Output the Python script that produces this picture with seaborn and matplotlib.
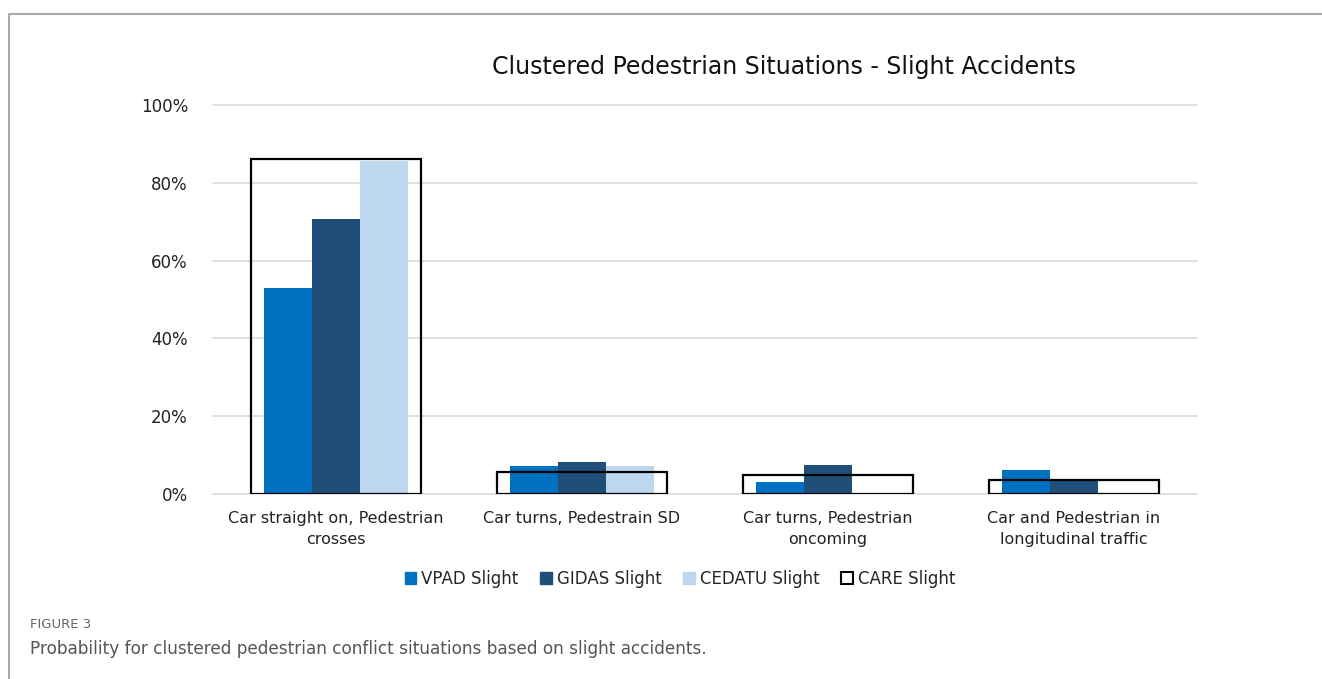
import numpy as np
import pandas as pd
import matplotlib
matplotlib.use("Agg")
import matplotlib.pyplot as plt
from matplotlib.patches import Patch
from matplotlib.lines import Line2D
from matplotlib.ticker import FuncFormatter
import seaborn as sns

sns.set_theme(style="white")
plt.rcParams['font.family'] = ['DejaVu Sans']

categories = ["Car straight on, Pedestrian\ncrosses",
              "Car turns, Pedestrain SD",
              "Car turns, Pedestrian\noncoming",
              "Car and Pedestrian in\nlongitudinal traffic"]
vpad = [53.0, 7.2, 3.1, 6.2]
gidas = [70.7, 8.2, 7.5, 3.4]
cedatu = [85.7, 7.2, 0.0, 0.0]
care = [86.0, 5.7, 4.9, 3.6]
series = ["VPAD Slight", "GIDAS Slight", "CEDATU Slight"]
colors = ["#0070C0", "#1F4E79", "#BDD7EE"]

df = pd.DataFrame({
    "situation": categories * 3,
    "series": [s for s in series for _ in categories],
    "value": vpad + gidas + cedatu,
})

fig = plt.figure(figsize=(13.22, 6.79), dpi=100)
ax = fig.add_axes([213/1322, 1-494/679, (1197-213)/1322, (494-105)/679])

sns.barplot(data=df, x="situation", y="value", hue="series", order=categories,
            hue_order=series, palette=colors, width=0.585, saturation=1,
            linewidth=0, legend=False, ax=ax, zorder=3)
sns.barplot(x=categories, y=care, order=categories, fill=False, color="black",
            width=0.687, linewidth=1.6, saturation=1, ax=ax, zorder=4)

ax.set_ylim(0, 100)
ax.set_yticks(np.arange(0, 101, 20))
ax.yaxis.set_major_formatter(FuncFormatter(lambda v, p: f"{v:.0f}%"))
ax.grid(axis="y", color="#D9D9D9", linewidth=1.2, zorder=0)
ax.set_axisbelow(True)
for gl in ax.get_ygridlines():
    gl.set_clip_on(False)
for s in ax.spines.values():
    s.set_visible(False)
ax.set_xlabel("")
ax.set_ylabel("")
ax.tick_params(axis="y", labelsize=12, colors="#222222", pad=18, length=0)
ax.tick_params(axis="x", labelsize=11.5, colors="#222222", pad=12, length=0)
for lbl in ax.get_xticklabels():
    lbl.set_linespacing(1.55)

fig.text(784/1322, 1-67/679, "Clustered Pedestrian Situations - Slight Accidents",
         ha="center", va="center", fontsize=17, color="#111111")

handles = [Patch(facecolor=c, edgecolor=c) for c in colors]
handles.append(Patch(facecolor="white", edgecolor="black", linewidth=1.5))
fig.legend(handles, series + ["CARE Slight"], loc="center", ncol=4,
           bbox_to_anchor=(680/1322, 1-579/679), frameon=False, fontsize=12,
           handlelength=0.7, handleheight=0.7, handletextpad=0.3, columnspacing=1.3)

fig.text(30/1322, 1-625/679, "FIGURE 3", fontsize=9.5, color="#666666", va="center")
fig.text(30/1322, 1-649/679,
         "Probability for clustered pedestrian conflict situations based on slight accidents.",
         fontsize=12.2, color="#555555", va="center")

fig.add_artist(Line2D([9/1322, 1], [1-14/679, 1-14/679], color="#AAAAAA", linewidth=1.5))
fig.add_artist(Line2D([9/1322, 9/1322], [0, 1-14/679], color="#AAAAAA", linewidth=1.5))

fig.savefig("out.png", dpi=100)
